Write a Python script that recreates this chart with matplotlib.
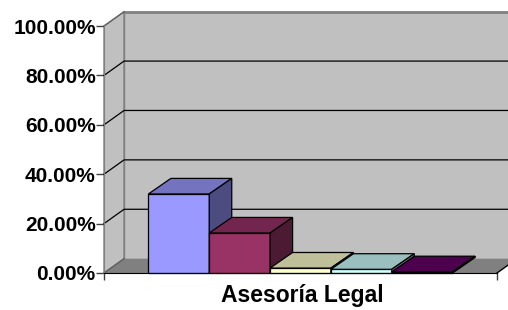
import matplotlib
matplotlib.use("Agg")
import matplotlib.pyplot as plt
from matplotlib.patches import Polygon

plt.rcParams['font.family'] = ['Liberation Sans', 'DejaVu Sans']

# ---- data ----
category = "Asesoría Legal"
values = [32.0, 16.2, 2.0, 1.5, 0.5]
front_colors = ["#9999FF", "#993366", "#FFFFCC", "#CCFFFF", "#660066"]
top_colors = ["#7373BF", "#73264D", "#BFBF99", "#99BFBF", "#4D004D"]
side_colors = ["#4C4C80", "#4D1A33", "#80806A", "#6A8080", "#330033"]
yticks = [0, 20, 40, 60, 80, 100]
ytick_labels = ["0.00%", "20.00%", "40.00%", "60.00%", "80.00%", "100.00%"]

# ---- style ----
W, H = 508, 310
fig = plt.figure(figsize=(W / 100, H / 100), dpi=100)
ax = fig.add_axes([104 / W, 37 / H, 393 / W, 247 / H])
XMIN, XMAX = -3.23, 3.23
ax.set_xlim(XMIN, XMAX)
ax.set_ylim(0, 100)

WDX, WDY = 0.33, 5.8      # wall depth offset (data units)
BDX, BDY = 0.37, 6.3      # bar depth offset
XR = 4.0                   # far right extent of back wall (clipped by figure)

wall_kw = dict(clip_on=False, linewidth=1.0)
# side wall
ax.add_patch(Polygon([(XMIN, 0), (XMIN + WDX, WDY), (XMIN + WDX, 100 + WDY), (XMIN, 100)],
                     closed=True, facecolor="#C0C0C0", edgecolor="#808080", zorder=1, **wall_kw))
# back wall
ax.add_patch(Polygon([(XMIN + WDX, WDY), (XR, WDY), (XR, 100 + WDY), (XMIN + WDX, 100 + WDY)],
                     closed=True, facecolor="#C0C0C0", edgecolor="none", zorder=1, **wall_kw))
ax.plot([XMIN + WDX, XR], [100 + WDY, 100 + WDY], color="#808080", lw=2, clip_on=False, zorder=2)
ax.plot([XMIN + WDX, XMIN + WDX], [WDY, 100 + WDY], color="#808080", lw=1, clip_on=False, zorder=2)
# floor
ax.add_patch(Polygon([(XMIN, 0), (XMAX, 0), (XMAX + WDX, WDY), (XMIN + WDX, WDY)],
                     closed=True, facecolor="#808080", edgecolor="none", zorder=2, **wall_kw))
ax.plot([XMAX, XMAX + WDX], [0, WDY], color="black", lw=1, clip_on=False, zorder=2)
ax.plot([XMIN, XMIN + WDX], [0, WDY], color="#606060", lw=1, clip_on=False, zorder=2)

# gridlines
for t in yticks[1:-1]:
    ax.plot([XMIN, XMIN + WDX, XR], [t, t + WDY, t + WDY], color="black", lw=0.9,
            clip_on=False, zorder=2)
ax.plot([XMIN, XMIN + WDX], [100, 100 + WDY], color="#606060", lw=0.9, clip_on=False, zorder=2)

# bars
n = len(values)
for i, v in enumerate(values):
    x0 = i - (n - 1) / 2 - 0.5
    x1 = x0 + 1
    kw = dict(closed=True, edgecolor="black", linewidth=0.9, clip_on=False, zorder=3 + i)
    ax.add_patch(Polygon([(x0, 0), (x1, 0), (x1, v), (x0, v)], facecolor=front_colors[i], **kw))
    ax.add_patch(Polygon([(x0, v), (x1, v), (x1 + BDX, v + BDY), (x0 + BDX, v + BDY)],
                         facecolor=top_colors[i], **kw))
    ax.add_patch(Polygon([(x1, 0), (x1 + BDX, BDY), (x1 + BDX, v + BDY), (x1, v)],
                         facecolor=side_colors[i], **kw))

# axes
for s in ["top", "right"]:
    ax.spines[s].set_visible(False)
ax.spines["left"].set_color("#808080")
ax.spines["left"].set_zorder(10)
ax.spines["bottom"].set_color("black")
ax.spines["bottom"].set_zorder(10)
ax.patch.set_visible(False)

ax.set_yticks(yticks)
ax.set_yticklabels(ytick_labels, fontsize=15, fontweight="bold")
ax.tick_params(axis="y", length=5.5, width=1, color="#404040", pad=0.5)

ax.set_xticks([XMIN, XMAX])
ax.set_xticklabels(["", ""])
ax.tick_params(axis="x", length=5, width=1, color="#404040")

ax.annotate(category, xy=(0, 0), xycoords="data", xytext=(1.5, -21), textcoords="offset points",
            ha="center", va="baseline", fontsize=16.5, fontweight="bold", annotation_clip=False)

fig.savefig("out.png", dpi=100)
